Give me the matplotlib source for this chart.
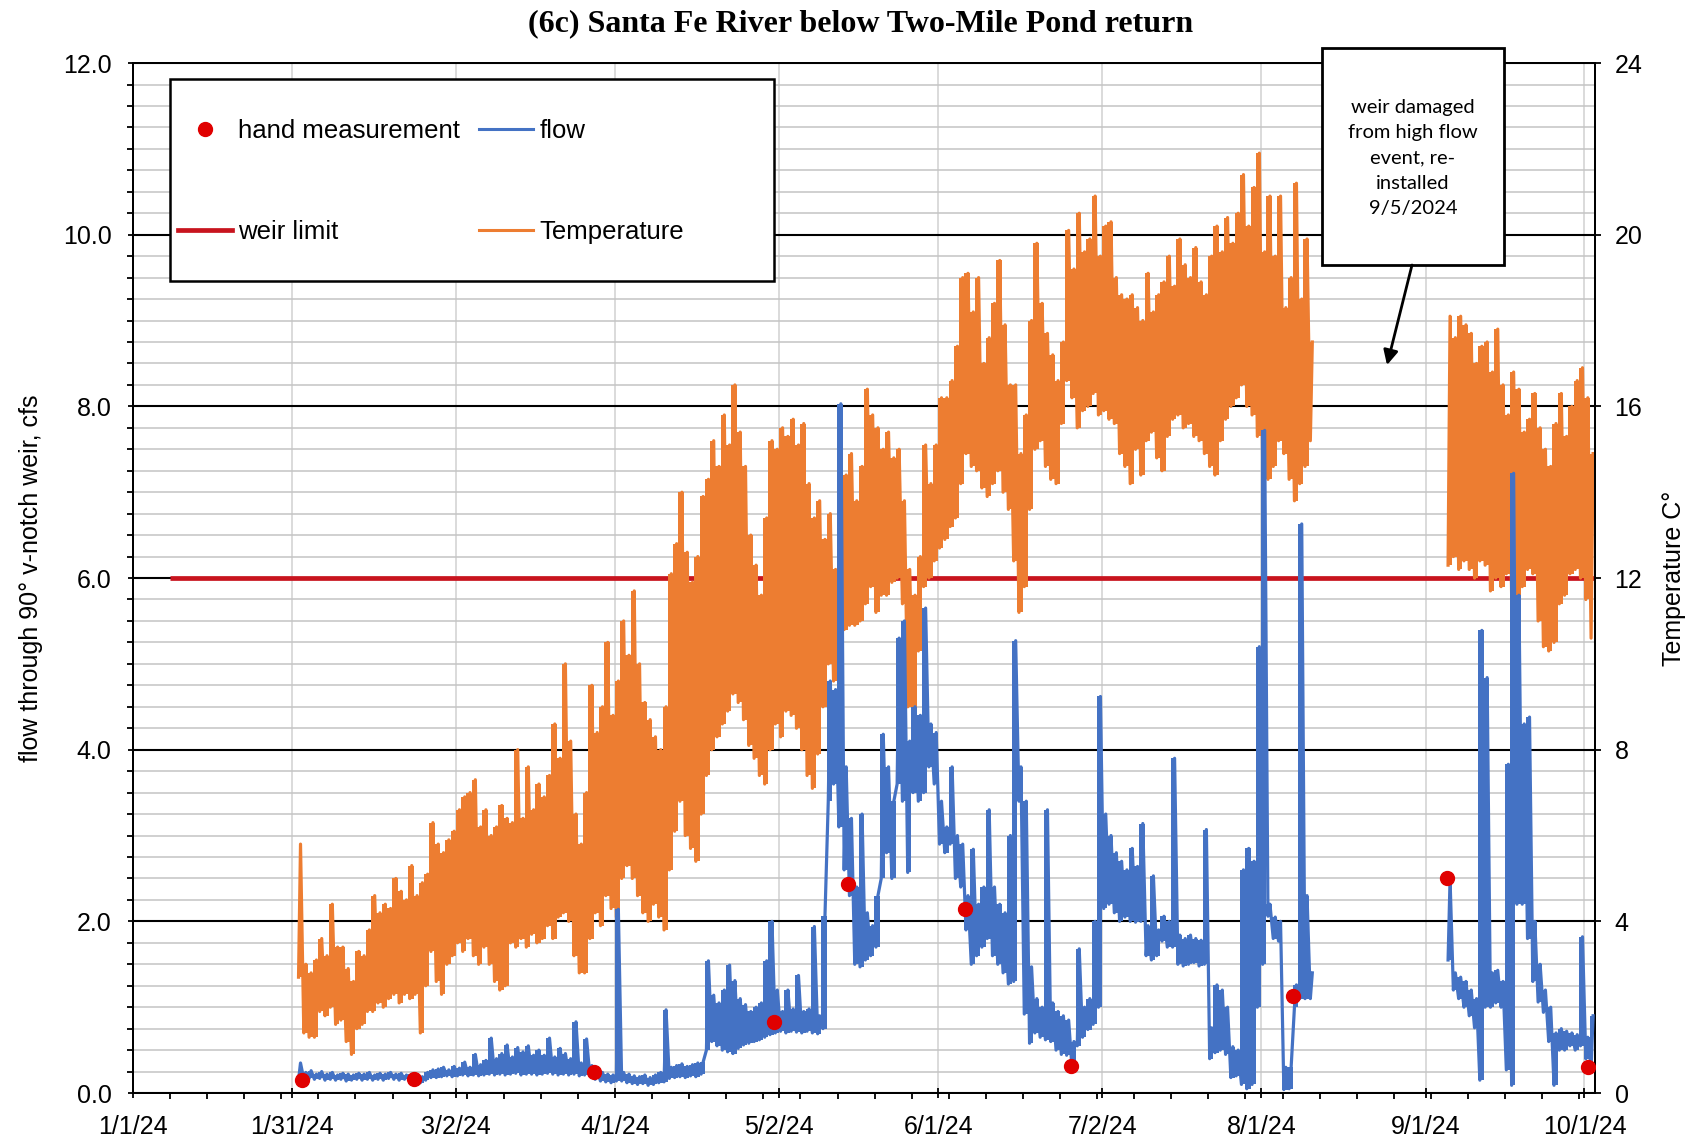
import numpy as np
import pandas as pd
import matplotlib
matplotlib.use("Agg")
import matplotlib.pyplot as plt
import matplotlib.dates as mdates
from matplotlib.patches import Rectangle
from matplotlib.lines import Line2D
from matplotlib.ticker import MultipleLocator, FixedLocator, FormatStrFormatter

plt.rcParams['font.family'] = ['Liberation Sans', 'DejaVu Sans']

# logger record 1: Feb 1 - Aug 10, daily low / high readings
start_1 = "2024-02-01"
temp_lo_1 = [2.7, 1.4, 1.3, 1.3, 1.9, 1.8, 2.0, 1.6, 1.7, 1.2,
             0.9, 1.5, 1.6, 1.9, 1.9, 2.1, 2.0, 2.2, 2.3, 2.1,
             2.3, 2.2, 2.3, 1.4, 2.5, 3.3, 2.6, 2.3, 3.0, 3.2,
             3.5, 3.3, 3.6, 3.2, 3.0, 3.4, 3.0, 2.6, 2.4, 2.5,
             3.5, 3.4, 3.6, 3.4, 3.7, 3.5, 3.6, 3.9, 3.6, 4.1,
             4.2, 4.0, 3.2, 2.8, 2.8, 3.6, 4.2, 3.9, 4.6, 4.3,
             4.1, 5.0, 5.3, 5.0, 4.6, 4.2, 4.0, 4.4, 4.1, 3.8,
             5.2, 6.1, 6.8, 6.0, 5.7, 5.4, 6.5, 7.4, 8.0, 8.3,
             8.6, 8.9, 9.3, 9.1, 8.7, 8.1, 7.8, 7.4, 7.2, 8.0,
             8.6, 8.3, 8.9, 8.8, 8.5, 8.0, 7.4, 7.1, 7.9, 9.0,
             10.0, 9.6, 10.2, 10.8, 10.9, 10.9, 11.0, 11.4, 11.8, 11.2,
             11.6, 11.6, 11.9, 12.0, 11.4, 9.0, 8.9, 10.3, 11.8, 12.0,
             12.4, 12.7, 12.9, 13.2, 13.4, 14.2, 14.9, 14.6, 14.5, 14.1,
             13.9, 14.2, 14.5, 14.0, 13.6, 12.4, 11.2, 11.8, 13.6, 15.0,
             15.2, 14.6, 14.3, 14.2, 15.6, 16.6, 16.2, 15.5, 15.9, 16.0,
             16.3, 15.8, 15.9, 15.7, 15.6, 14.9, 14.6, 14.2, 15.0, 14.4,
             15.2, 15.4, 14.8, 14.5, 15.3, 15.7, 15.8, 15.5, 15.6, 15.3,
             15.2, 14.9, 14.6, 14.4, 15.2, 15.7, 16.0, 16.2, 16.5, 16.0,
             15.8, 15.3, 14.7, 14.3, 14.6, 15.2, 14.9, 14.3, 13.8, 14.2,
             14.6, 15.2]
temp_hi_1 = [5.8, 3.0, 2.8, 3.1, 3.6, 3.2, 4.4, 3.4, 3.4, 2.9,
             2.6, 3.3, 3.2, 3.8, 4.6, 4.2, 4.4, 4.3, 5.0, 4.7,
             4.5, 5.3, 4.6, 4.9, 5.1, 6.3, 5.8, 5.6, 5.9, 6.1,
             6.6, 6.9, 7.0, 7.3, 6.2, 6.6, 6.0, 6.2, 6.7, 6.4,
             6.3, 8.0, 6.4, 7.6, 6.6, 7.2, 6.9, 7.4, 8.6, 7.8,
             10.0, 8.2, 6.5, 5.8, 7.0, 9.5, 8.4, 9.0, 10.5, 8.8,
             9.6, 11.0, 10.2, 11.7, 10.0, 9.1, 8.7, 8.3, 8.0, 9.0,
             12.1, 12.8, 14.0, 12.6, 11.9, 12.5, 13.9, 14.3, 15.2, 14.6,
             15.8, 15.1, 16.5, 15.4, 14.6, 13.0, 12.3, 11.6, 13.4, 15.2,
             15.0, 15.5, 15.3, 15.7, 15.1, 15.6, 14.2, 13.4, 13.8, 12.9,
             13.5, 12.2, 15.0, 14.4, 14.9, 13.8, 14.6, 16.4, 15.8, 15.5,
             15.0, 15.4, 14.8, 15.0, 13.8, 12.2, 11.6, 12.5, 15.1, 14.2,
             15.1, 16.2, 16.2, 16.6, 17.4, 19.0, 19.1, 18.2, 19.0, 17.0,
             17.6, 18.4, 19.4, 17.9, 16.5, 16.5, 14.9, 15.8, 18.0, 19.8,
             18.4, 17.7, 17.2, 16.6, 17.5, 20.1, 19.2, 20.5, 19.6, 19.9,
             20.9, 19.5, 20.2, 20.3, 19.0, 18.6, 18.5, 18.6, 18.3, 18.0,
             19.1, 18.2, 18.6, 18.9, 19.5, 18.8, 19.9, 19.3, 19.0, 19.7,
             18.9, 18.6, 19.5, 20.2, 19.6, 20.4, 19.8, 20.5, 21.4, 20.2,
             21.1, 21.9, 19.6, 20.9, 19.5, 20.9, 18.3, 19.0, 21.2, 18.5,
             19.9, 17.5]
flow_lo_1 = [0.15, 0.16, 0.17, 0.16, 0.17, 0.15, 0.16, 0.15, 0.16, 0.14,
             0.15, 0.16, 0.15, 0.16, 0.15, 0.16, 0.15, 0.17, 0.16, 0.15,
             0.16, 0.15, 0.14, 0.12, 0.15, 0.18, 0.18, 0.19, 0.20, 0.19,
             0.20, 0.21, 0.20, 0.21, 0.20, 0.21, 0.22, 0.21, 0.22, 0.21,
             0.22, 0.23, 0.21, 0.22, 0.22, 0.21, 0.22, 0.23, 0.22, 0.21,
             0.22, 0.21, 0.22, 0.20, 0.21, 0.20, 0.16, 0.14, 0.13, 0.12,
             0.14, 0.14, 0.12, 0.11, 0.10, 0.11, 0.09, 0.10, 0.12, 0.13,
             0.17, 0.18, 0.19, 0.18, 0.20, 0.19, 0.22, 0.50, 0.60, 0.55,
             0.50, 0.48, 0.46, 0.52, 0.56, 0.58, 0.60, 0.62, 0.65, 0.68,
             0.70, 0.72, 0.70, 0.72, 0.71, 0.70, 0.72, 0.70, 0.69, 0.75,
             3.40, 3.60, 3.10, 2.60, 2.30, 1.50, 1.47, 1.55, 1.60, 1.70,
             2.50, 2.80, 2.50, 3.60, 3.40, 2.57, 3.50, 3.40, 3.50, 3.80,
             3.60, 2.90, 2.80, 2.90, 2.50, 2.40, 1.90, 1.50, 1.60, 1.70,
             1.80, 1.60, 1.50, 1.40, 1.27, 1.30, 3.40, 0.92, 0.58, 0.70,
             0.65, 0.62, 0.60, 0.50, 0.45, 0.44, 0.30, 0.55, 0.65, 0.74,
             0.80, 1.00, 2.15, 2.20, 2.10, 2.00, 2.05, 2.00, 1.99, 2.00,
             1.60, 1.55, 1.60, 1.77, 1.70, 1.70, 1.50, 1.48, 1.50, 1.52,
             1.48, 1.50, 0.40, 0.47, 0.50, 0.45, 0.18, 0.20, 0.10, 0.05,
             0.10, 1.00, 1.50, 2.06, 1.80, 1.77, 0.04, 0.05, 1.00, 1.10,
             1.10, 1.10]
flow_hi_1 = [0.35, 0.24, 0.26, 0.22, 0.25, 0.22, 0.24, 0.21, 0.23, 0.22,
             0.21, 0.23, 0.22, 0.24, 0.21, 0.23, 0.22, 0.24, 0.22, 0.23,
             0.21, 0.22, 0.20, 0.19, 0.24, 0.27, 0.28, 0.30, 0.27, 0.31,
             0.29, 0.36, 0.30, 0.45, 0.33, 0.38, 0.64, 0.40, 0.46, 0.56,
             0.42, 0.53, 0.48, 0.55, 0.44, 0.50, 0.44, 0.64, 0.42, 0.52,
             0.46, 0.40, 0.83, 0.35, 0.63, 0.32, 0.26, 0.24, 0.22, 0.21,
             2.14, 0.24, 0.22, 0.20, 0.19, 0.21, 0.18, 0.21, 0.24, 0.97,
             0.30, 0.32, 0.34, 0.31, 0.33, 0.35, 0.36, 1.54, 1.14, 1.05,
             1.20, 1.49, 1.31, 1.10, 1.03, 0.95, 1.00, 1.05, 1.54, 2.00,
             1.20, 0.95, 1.20, 0.98, 1.37, 0.95, 0.98, 1.94, 0.90, 2.06,
             4.80, 4.70, 8.03, 3.80, 3.20, 2.40, 3.25, 2.10, 1.95, 2.30,
             4.18, 3.80, 3.40, 5.30, 5.50, 4.10, 4.50, 4.40, 5.65, 4.30,
             4.20, 3.40, 3.10, 3.80, 3.00, 2.90, 2.30, 2.84, 2.20, 2.40,
             3.30, 2.40, 2.20, 2.10, 3.00, 5.27, 3.80, 3.40, 1.47, 1.10,
             1.00, 3.30, 1.05, 0.95, 0.90, 0.85, 0.60, 1.68, 1.00, 1.10,
             2.00, 4.62, 3.25, 3.00, 2.80, 2.70, 2.60, 2.85, 2.64, 3.14,
             1.95, 2.53, 1.90, 2.06, 2.00, 3.90, 1.84, 1.80, 1.84, 1.80,
             1.78, 3.07, 0.76, 1.26, 1.20, 1.00, 0.54, 0.50, 2.60, 2.85,
             2.70, 5.20, 7.72, 2.20, 2.05, 2.00, 0.30, 0.30, 1.26, 6.63,
             2.30, 1.40]

# logger record 2: after the weir was re-installed
start_2 = "2024-09-05"
temp_lo_2 = [12.3, 12.5, 12.2, 12.4, 12.2, 12.0, 12.4, 12.3, 11.7, 12.0,
             11.8, 12.1, 11.6, 11.4, 11.8, 12.2, 12.1, 11.0, 10.4, 10.3,
             10.5, 11.4, 11.6, 12.1, 12.2, 12.0, 11.5, 10.6]
temp_hi_2 = [18.1, 17.6, 18.1, 17.9, 17.7, 17.0, 17.4, 17.5, 16.8, 17.8,
             16.5, 15.8, 16.8, 16.4, 15.4, 15.7, 16.3, 15.5, 15.0, 14.6,
             15.6, 16.3, 15.3, 16.0, 16.6, 16.9, 16.2, 14.9]
flow_lo_2 = [1.55, 1.20, 1.10, 1.00, 0.90, 0.76, 0.15, 1.00, 1.00, 1.05,
             1.00, 0.27, 0.09, 2.20, 2.20, 1.80, 1.30, 1.06, 0.94, 0.60,
             0.09, 0.50, 0.50, 0.55, 0.50, 0.55, 0.40, 0.30]
flow_hi_2 = [2.49, 1.40, 1.35, 1.30, 1.20, 1.10, 5.39, 4.84, 1.40, 1.43,
             1.30, 3.83, 7.22, 5.80, 4.30, 4.38, 2.00, 1.50, 1.20, 1.00,
             0.70, 0.75, 0.72, 0.70, 0.68, 1.82, 0.65, 0.90]

# hand measurements (cfs)
hand_dates = ["2024-02-02", "2024-02-23", "2024-03-28", "2024-05-01", "2024-05-15",
              "2024-06-06", "2024-06-26", "2024-08-07", "2024-09-05", "2024-10-01T18:00"]
hand_flow = [0.15, 0.16, 0.24, 0.83, 2.43, 2.14, 0.31, 1.13, 2.50, 0.30]

weir_dates = ["2024-01-08", "2024-10-03"]
weir_flow = [6.0, 6.0]

x_ticks = ["2024-01-01", "2024-01-31", "2024-03-02", "2024-04-01", "2024-05-02",
           "2024-06-01", "2024-07-02", "2024-08-01", "2024-09-01", "2024-10-01"]

BLUE = "#4472C4"
ORANGE = "#ED7D31"
RED = "#E00000"
WEIR = "#C8141E"


def draw_band(axis, start, lo, hi, color, z):
    # daily range as a filled band, with the low/high readings traced on top
    days = pd.date_range(start, periods=len(lo), freq="D")
    mid = days + pd.Timedelta(hours=11)
    axis.fill_between(mid, lo, hi, step="mid", color=color, lw=0, zorder=z)
    t = np.empty(2 * len(lo), dtype="datetime64[ns]")
    v = np.empty(2 * len(lo))
    t[0::2] = (days + pd.Timedelta(hours=6)).values
    t[1::2] = (days + pd.Timedelta(hours=15)).values
    v[0::2] = lo
    v[1::2] = hi
    axis.plot(t, v, color=color, lw=2.3, zorder=z)


fig = plt.figure(figsize=(16.94, 11.40), dpi=100)
fig.patch.set_facecolor("white")
ax = fig.add_axes([0.0785, 0.0412, 0.8631, 0.9035])
ax2 = ax.twinx()
ax.set_zorder(2)
ax2.set_zorder(1)
ax.patch.set_visible(False)

# temperature (and the weir limit underneath it) on the lower layer
ax2.plot(pd.to_datetime(weir_dates), weir_flow, color=WEIR, lw=3.4,
         solid_capstyle="butt", transform=ax.transData, zorder=1.8)
draw_band(ax2, start_1, temp_lo_1, temp_hi_1, ORANGE, 2)
draw_band(ax2, start_2, temp_lo_2, temp_hi_2, ORANGE, 2)

# flow and hand measurements on top
draw_band(ax, start_1, flow_lo_1, flow_hi_1, BLUE, 3)
draw_band(ax, start_2, flow_lo_2, flow_hi_2, BLUE, 3)
ax.plot(pd.to_datetime(hand_dates, format="ISO8601"), hand_flow, ls="none",
        marker="o", ms=10, color=RED, zorder=4)

# axes limits and ticks
ax.set_xlim(pd.Timestamp("2024-01-01"), pd.Timestamp("2024-10-03"))
ax.set_ylim(0, 12)
ax2.set_ylim(0, 24)
ax.xaxis.set_major_locator(FixedLocator(mdates.date2num(pd.to_datetime(x_ticks))))
ax.xaxis.set_minor_locator(mdates.WeekdayLocator(byweekday=mdates.MO))
ax.xaxis.set_major_formatter(mdates.DateFormatter("%-m/%-d/%y"))
ax.yaxis.set_major_locator(MultipleLocator(2))
ax.yaxis.set_minor_locator(MultipleLocator(0.25))
ax.yaxis.set_major_formatter(FormatStrFormatter("%.1f"))
ax2.yaxis.set_major_locator(MultipleLocator(4))
ax2.yaxis.set_minor_locator(MultipleLocator(0.5))

ax.tick_params(axis="both", which="major", direction="inout", length=7, width=1.3,
               labelsize=18, pad=12, colors="black")
ax.tick_params(axis="both", which="minor", direction="out", length=4, width=1.3)
ax2.tick_params(axis="y", which="major", direction="out", length=4, width=1.3,
                labelsize=18, pad=10)
ax2.tick_params(axis="y", which="minor", length=0)

# gridlines live on the lower layer so the data sits above them
ax.grid(False)
ax2.xaxis.set_visible(True)
ax2.tick_params(axis="x", which="both", bottom=False, top=False,
                labelbottom=False, labeltop=False)
ax2.grid(True, axis="x", which="major", color="#D4D4D4", lw=1.2)
ax2.grid(True, axis="y", which="major", color="black", lw=1.5)
ax2.grid(True, axis="y", which="minor", color="#C4C4C4", lw=1.1)

for a in (ax, ax2):
    for s in a.spines.values():
        s.set_color("black")
        s.set_linewidth(1.4)

ax.set_ylabel("flow through 90° v-notch weir, cfs", fontsize=18)
ax.yaxis.set_label_coords(-0.0615, 0.5)
ax2.set_ylabel("Temperature C°", fontsize=18)
ax2.yaxis.set_label_coords(1.0455, 0.5)

fig.text(0.508, 0.979, "(6c) Santa Fe River below Two-Mile Pond return",
         ha="center", va="center", fontsize=23, fontweight="bold",
         family="Liberation Serif")

# legend box and entries
ax.add_patch(Rectangle((0.0253, 0.7883), 0.4131, 0.1962, transform=ax.transAxes,
                       facecolor="white", edgecolor="black", lw=1.8, zorder=6))
handles = [
    Line2D([], [], ls="none", marker="o", ms=10, color=RED),
    Line2D([], [], color=WEIR, lw=3.4),
    Line2D([], [], color=BLUE, lw=2.2),
    Line2D([], [], color=ORANGE, lw=2.2),
]
labels = ["hand measurement", "weir limit", "flow", "Temperature"]
ax.legend(handles, labels, ncol=2, loc="upper left", bbox_to_anchor=(0.0308, 0.946),
          frameon=False, fontsize=18.5, borderpad=0, borderaxespad=0,
          handlelength=2.1, handletextpad=0.24, columnspacing=0.75,
          labelspacing=3.0, numpoints=1).set_zorder(7)

# note about the damaged weir
ax.add_patch(Rectangle((0.8133, 0.8039), 0.1245, 0.2107, transform=ax.transAxes,
                       facecolor="white", edgecolor="black", lw=2.0, clip_on=False, zorder=7))
ax.text(0.8755, 0.9078, "weir damaged\nfrom high flow\nevent, re-\ninstalled\n9/5/2024",
        transform=ax.transAxes, ha="center", va="center", fontsize=14.5,
        family="Lato", linespacing=1.58, zorder=8, clip_on=False)
ax.annotate("", xy=(0.8577, 0.7068), xycoords="axes fraction",
            xytext=(0.8748, 0.8039), textcoords="axes fraction",
            arrowprops=dict(arrowstyle="-|>", lw=2, color="black",
                            mutation_scale=22, shrinkA=0, shrinkB=0),
            zorder=8)

fig.savefig("out.png", dpi=100, facecolor="white")
